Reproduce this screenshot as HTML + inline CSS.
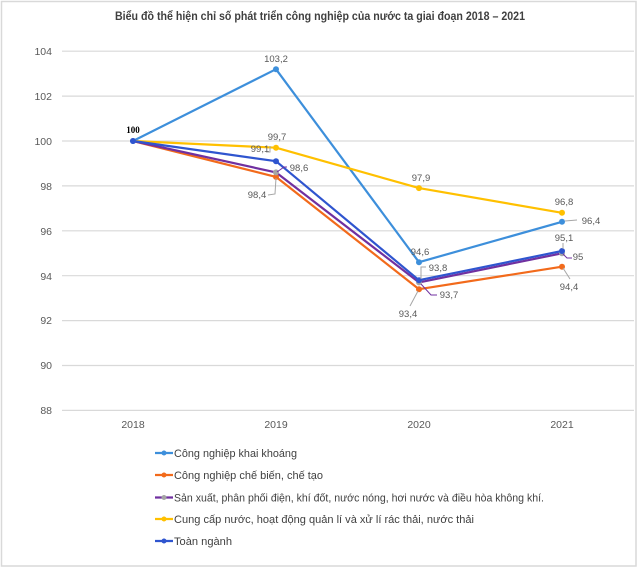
<!DOCTYPE html>
<html><head><meta charset="utf-8"><style>
html,body{margin:0;padding:0;background:#fff;}
svg{display:block;}
text{font-family:"Liberation Sans",Arial,sans-serif;}
</style></head><body>
<svg width="640" height="568" viewBox="0 0 640 568" xmlns="http://www.w3.org/2000/svg">
<rect x="0" y="0" width="640" height="568" fill="#fff"/>
<rect x="1.5" y="1.5" width="634.5" height="564.5" fill="none" stroke="#d9d9d9" stroke-width="1.5"/>
<text x="320" y="20" text-anchor="middle" font-size="12" font-weight="bold" fill="#404040" textLength="410" lengthAdjust="spacingAndGlyphs">Biểu đồ thể hiện chỉ số phát triển công nghiệp của nước ta giai đoạn 2018 – 2021</text>
<g stroke="#d9d9d9" stroke-width="1.2">
<line x1="62" y1="51.2" x2="634" y2="51.2"/>
<line x1="62" y1="96.1" x2="634" y2="96.1"/>
<line x1="62" y1="141" x2="634" y2="141"/>
<line x1="62" y1="185.9" x2="634" y2="185.9"/>
<line x1="62" y1="230.8" x2="634" y2="230.8"/>
<line x1="62" y1="275.7" x2="634" y2="275.7"/>
<line x1="62" y1="320.6" x2="634" y2="320.6"/>
<line x1="62" y1="365.5" x2="634" y2="365.5"/>
<line x1="62" y1="410.4" x2="634" y2="410.4"/>
</g>
<g font-size="10.5" fill="#595959" text-anchor="end">
<text x="52" y="55">104</text>
<text x="52" y="100">102</text>
<text x="52" y="145">100</text>
<text x="52" y="190">98</text>
<text x="52" y="235">96</text>
<text x="52" y="280">94</text>
<text x="52" y="324">92</text>
<text x="52" y="369">90</text>
<text x="52" y="414">88</text>
</g>
<g font-size="10.5" fill="#595959" text-anchor="middle">
<text x="133" y="428">2018</text>
<text x="276" y="428">2019</text>
<text x="419" y="428">2020</text>
<text x="562" y="428">2021</text>
</g>
<g fill="none" stroke-width="2.2" stroke-linejoin="round">
<polyline stroke="#3d8fdb" points="133,141 276,69.2 419,262.2 562,221.8"/>
<polyline stroke="#f26a1b" points="133,141 276,176.9 419,289.2 562,266.7"/>
<polyline stroke="#7030a0" points="133,141 276,172.4 419,282.4 562,253.3"/>
<polyline stroke="#ffc000" points="133,141 276,147.7 419,188.1 562,212.8"/>
<polyline stroke="#2f55cf" points="133,141 276,161.2 419,280.2 562,251"/>
</g>
<g>
<circle cx="133" cy="141" r="3" fill="#3d8fdb"/><circle cx="276" cy="69.2" r="3" fill="#3d8fdb"/><circle cx="419" cy="262.2" r="3" fill="#3d8fdb"/><circle cx="562" cy="221.8" r="3" fill="#3d8fdb"/>
<circle cx="276" cy="176.9" r="3" fill="#f26a1b"/><circle cx="419" cy="289.2" r="3" fill="#f26a1b"/><circle cx="562" cy="266.7" r="3" fill="#f26a1b"/>
<circle cx="276" cy="172.4" r="3" fill="#a5a5a5"/><circle cx="419" cy="282.4" r="3" fill="#a5a5a5"/><circle cx="562" cy="253.3" r="3" fill="#a5a5a5"/>
<circle cx="276" cy="147.7" r="3" fill="#ffc000"/><circle cx="419" cy="188.1" r="3" fill="#ffc000"/><circle cx="562" cy="212.8" r="3" fill="#ffc000"/>
<circle cx="276" cy="161.2" r="3" fill="#2f55cf"/><circle cx="419" cy="280.2" r="3" fill="#2f55cf"/><circle cx="562" cy="251" r="3" fill="#2f55cf"/>
<circle cx="133" cy="141" r="3" fill="#2f55cf"/>
</g>
<g fill="none" stroke-width="1">
<polyline stroke="#a6a6a6" points="270,146 270,152 266,152"/>
<polyline stroke="#7030a0" points="277,172 284,167 287,167"/>
<polyline stroke="#a6a6a6" points="276,178 275,194 268,195"/>
<polyline stroke="#a6a6a6" points="565,221 577,220"/>
<polyline stroke="#a6a6a6" points="563,243 563,249"/>
<polyline stroke="#7030a0" points="563,254 567,258 572,258"/>
<polyline stroke="#a6a6a6" points="563,268 570,279"/>
<polyline stroke="#a6a6a6" points="421,279 421,267 426,267"/>
<polyline stroke="#7030a0" points="421,284 431,295 437,295"/>
<polyline stroke="#a6a6a6" points="410,306 418,291"/>
</g>
<text x="133" y="133" text-anchor="middle" font-size="9" font-weight="bold" fill="#000" style="font-family:'Liberation Serif',serif">100</text>
<g font-size="9.5" fill="#595959" text-anchor="middle">
<text x="276" y="62">103,2</text>
<text x="277" y="140">99,7</text>
<text x="260" y="152">99,1</text>
<text x="299" y="171">98,6</text>
<text x="257" y="198">98,4</text>
<text x="421" y="181">97,9</text>
<text x="564" y="205">96,8</text>
<text x="591" y="224">96,4</text>
<text x="564" y="241">95,1</text>
<text x="578" y="260">95</text>
<text x="569" y="290">94,4</text>
<text x="420" y="255">94,6</text>
<text x="438" y="271">93,8</text>
<text x="449" y="298">93,7</text>
<text x="408" y="317">93,4</text>
</g>
<g stroke-width="2.2">
<line x1="155" y1="453" x2="173" y2="453" stroke="#3d8fdb"/><circle cx="164" cy="453" r="2.5" fill="#3d8fdb" stroke="none"/>
<line x1="155" y1="475" x2="173" y2="475" stroke="#f26a1b"/><circle cx="164" cy="475" r="2.5" fill="#f26a1b" stroke="none"/>
<line x1="155" y1="497.5" x2="173" y2="497.5" stroke="#7030a0"/><circle cx="164" cy="497.5" r="2.5" fill="#a5a5a5" stroke="none"/>
<line x1="155" y1="519" x2="173" y2="519" stroke="#ffc000"/><circle cx="164" cy="519" r="2.5" fill="#ffc000" stroke="none"/>
<line x1="155" y1="541" x2="173" y2="541" stroke="#2f55cf"/><circle cx="164" cy="541" r="2.5" fill="#2f55cf" stroke="none"/>
</g>
<g font-size="11" fill="#404040">
<text x="174" y="457" textLength="123" lengthAdjust="spacingAndGlyphs">Công nghiệp khai khoáng</text>
<text x="174" y="479" textLength="149" lengthAdjust="spacingAndGlyphs">Công nghiệp chế biến, chế tạo</text>
<text x="174" y="501.5" textLength="370" lengthAdjust="spacingAndGlyphs">Sản xuất, phân phối điện, khí đốt, nước nóng, hơi nước và điều hòa không khí.</text>
<text x="174" y="523" textLength="300" lengthAdjust="spacingAndGlyphs">Cung cấp nước, hoạt động quản lí và xử lí rác thải, nước thải</text>
<text x="174" y="545" textLength="58" lengthAdjust="spacingAndGlyphs">Toàn ngành</text>
</g>
</svg>
</body></html>
